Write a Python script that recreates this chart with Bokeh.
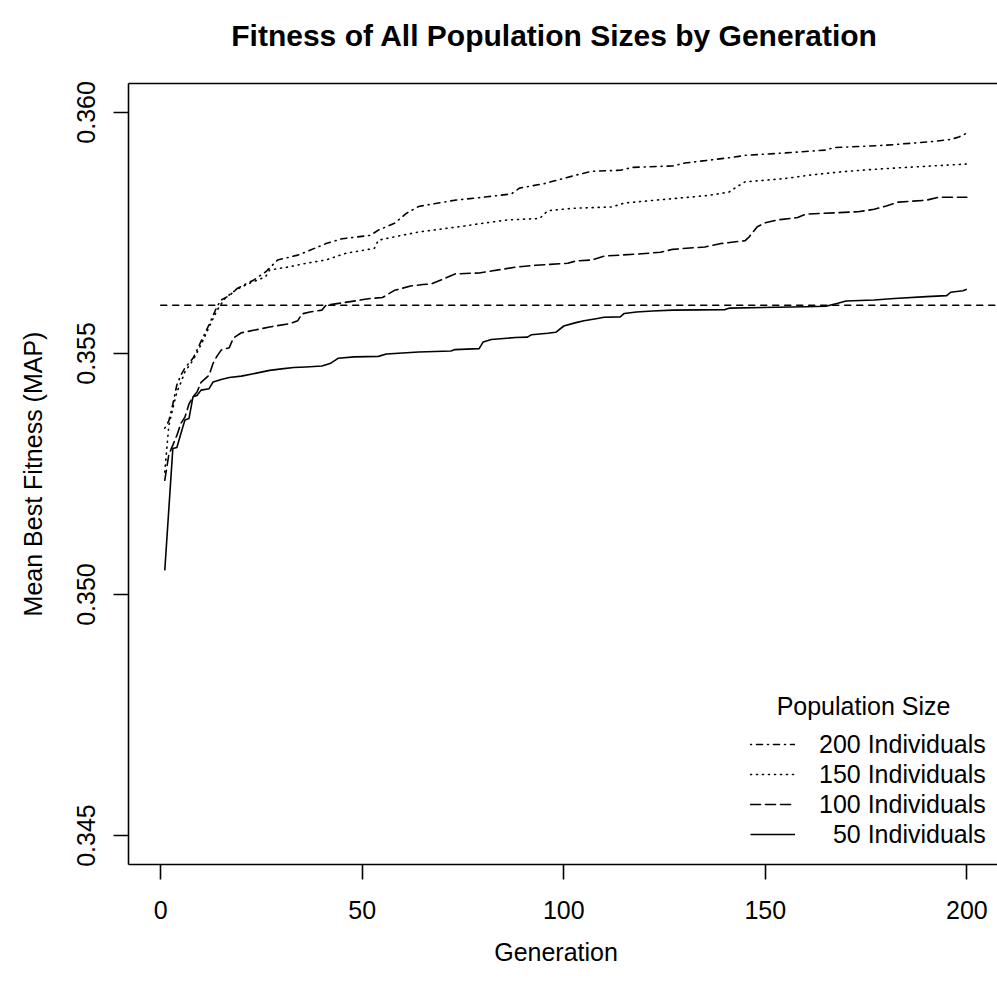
from bokeh.plotting import figure
from bokeh.models import (Range1d, FixedTicker, LinearAxis, Legend, LegendItem, Label)
from bokeh.embed import file_html
from bokeh.resources import INLINE

# ---------------- data ----------------
title_text = "Fitness of All Population Sizes by Generation"
x_label = "Generation"
y_label = "Mean Best Fitness (MAP)"
legend_title = "Population Size"

x_ticks = [0, 50, 100, 150, 200]
y_ticks = [0.345, 0.350, 0.355, 0.360]
y_tick_labels = ["0.345", "0.350", "0.355", "0.360"]

ref_value = 0.356
ref_x = [0, 215]

gen_50 = [1, 3, 4, 5, 6, 7, 8, 9, 10, 12, 13, 15, 17, 20, 23, 27, 30, 33, 36, 40, 42, 44, 48, 54, 56,
          64, 72, 73, 79, 80, 82, 88, 91, 92, 96, 98, 100, 103, 105, 108, 110, 114, 115, 118, 122,
          127, 140, 141, 160, 165, 168, 170, 177, 182, 190, 195, 196, 199, 200]
fit_50 = [0.35050, 0.35303, 0.35305, 0.35334, 0.35362, 0.35365, 0.35410, 0.35413, 0.35424, 0.35427,
          0.35441, 0.35446, 0.35450, 0.35453, 0.35458, 0.35465, 0.35468, 0.35471, 0.35472, 0.35474,
          0.35479, 0.35490, 0.35493, 0.35494, 0.35499, 0.35503, 0.35505, 0.35508, 0.35510, 0.35524,
          0.35529, 0.35533, 0.35534, 0.35539, 0.35542, 0.35544, 0.35557, 0.35564, 0.35568, 0.35572,
          0.35575, 0.35576, 0.35583, 0.35586, 0.35588, 0.35590, 0.35591, 0.35594, 0.35597, 0.35598,
          0.35604, 0.35609, 0.35611, 0.35614, 0.35618, 0.35620, 0.35627, 0.35630, 0.35633]

gen_100 = [1, 2, 3, 4, 5, 6, 7, 8, 9, 10, 12, 13, 14, 15, 17, 18, 20, 23, 27, 32, 34, 35, 37, 40, 41,
           45, 52, 55, 58, 62, 65, 67, 70, 73, 79, 82, 88, 93, 101, 103, 107, 110, 118, 124, 127,
           135, 139, 145, 146, 148, 150, 153, 158, 160, 173, 177, 180, 183, 190, 193, 200]
fit_100 = [0.35237, 0.35290, 0.35310, 0.35330, 0.35355, 0.35368, 0.35395, 0.35410, 0.35420, 0.35440,
           0.35455, 0.35480, 0.35495, 0.35507, 0.35512, 0.35532, 0.35543, 0.35548, 0.35555, 0.35562,
           0.35568, 0.35582, 0.35586, 0.35590, 0.35600, 0.35605, 0.35614, 0.35616, 0.35631, 0.35640,
           0.35643, 0.35644, 0.35654, 0.35665, 0.35667, 0.35671, 0.35679, 0.35683, 0.35687, 0.35692,
           0.35694, 0.35702, 0.35706, 0.35710, 0.35716, 0.35721, 0.35728, 0.35734, 0.35742, 0.35763,
           0.35771, 0.35777, 0.35782, 0.35789, 0.35794, 0.35799, 0.35806, 0.35814, 0.35818, 0.35824,
           0.35824]

gen_150 = [1, 2, 3, 4, 5, 6, 8, 10, 12, 14, 16, 18, 20, 23, 26, 27, 32, 36, 41, 46, 53, 54, 58, 64,
           75, 79, 86, 94, 96, 102, 112, 115, 124, 131, 136, 139, 141, 143, 145, 155, 161, 169, 177,
           185, 200]
fit_150 = [0.35254, 0.35350, 0.35386, 0.35420, 0.35440, 0.35462, 0.35486, 0.35518, 0.35555, 0.35590,
           0.35615, 0.35628, 0.35638, 0.35649, 0.35659, 0.35673, 0.35680, 0.35687, 0.35694, 0.35708,
           0.35718, 0.35735, 0.35742, 0.35752, 0.35764, 0.35769, 0.35777, 0.35780, 0.35796, 0.35801,
           0.35804, 0.35812, 0.35819, 0.35824, 0.35828, 0.35832, 0.35835, 0.35846, 0.35856, 0.35863,
           0.35870, 0.35877, 0.35882, 0.35886, 0.35893]

gen_200 = [1, 2, 3, 4, 5, 6, 8, 10, 12, 14, 15, 17, 19, 23, 26, 29, 34, 37, 41, 45, 52, 54, 58, 61,
           64, 73, 81, 87, 89, 95, 99, 103, 107, 114, 117, 127, 130, 136, 142, 145, 155, 165, 167,
           180, 192, 196, 198, 200]
fit_200 = [0.35345, 0.35360, 0.35395, 0.35435, 0.35455, 0.35470, 0.35490, 0.35525, 0.35560, 0.35598,
           0.35611, 0.35620, 0.35635, 0.35652, 0.35669, 0.35694, 0.35704, 0.35714, 0.35728, 0.35738,
           0.35745, 0.35756, 0.35770, 0.35791, 0.35805, 0.35818, 0.35825, 0.35831, 0.35843, 0.35852,
           0.35861, 0.35870, 0.35878, 0.35880, 0.35886, 0.35889, 0.35895, 0.35901, 0.35907, 0.35911,
           0.35916, 0.35922, 0.35927, 0.35932, 0.35940, 0.35944, 0.35949, 0.35957]

series_labels = ["200 Individuals", "150 Individuals", "100 Individuals", "\u200750 Individuals"]

# ---------------- styling ----------------
FONT = "Liberation Sans"
LW = 1.6
INK = "black"
PAD = "\u2007"  # figure space, nudges centred labels slightly left like the original

p = figure(width=997, height=979, output_backend="svg", toolbar_location=None,
           x_range=Range1d(-8, 207.6), y_range=Range1d(0.3444, 0.3606),
           min_border_left=128, min_border_right=0, min_border_top=83, min_border_bottom=115,
           background_fill_color="white", border_fill_color="white")
p.outline_line_color = None
p.xgrid.visible = False
p.ygrid.visible = False
p.title.text = ""
p.title.standoff = 0

# axes
for ax in (p.xaxis[0], p.yaxis[0]):
    ax.axis_line_color = INK
    ax.axis_line_width = LW
    ax.major_tick_line_color = INK
    ax.major_tick_line_width = LW
    ax.major_tick_out = 15
    ax.major_tick_in = 0
    ax.minor_tick_line_color = None
    ax.major_label_text_font = FONT
    ax.major_label_text_font_size = "25px"
    ax.major_label_text_color = INK
    ax.axis_label_text_font = FONT
    ax.axis_label_text_font_size = "25px"
    ax.axis_label_text_font_style = "normal"
    ax.axis_label_text_color = INK

p.xaxis[0].ticker = FixedTicker(ticks=x_ticks)
p.xaxis[0].axis_label = x_label + PAD
p.xaxis[0].major_label_standoff = 21
p.xaxis[0].axis_label_standoff = 16

p.yaxis[0].ticker = FixedTicker(ticks=y_ticks)
p.yaxis[0].major_label_overrides = {t: s for t, s in zip(y_ticks, y_tick_labels)}
p.yaxis[0].major_label_orientation = "vertical"
p.yaxis[0].axis_label = y_label
p.yaxis[0].major_label_standoff = 18
p.yaxis[0].axis_label_standoff = 28

# top border line (R box top) carrying the chart title as its label
top = LinearAxis(ticker=FixedTicker(ticks=[]), major_tick_out=0, major_tick_in=0,
                 minor_tick_out=0, minor_tick_in=0, major_label_text_font_size="0px",
                 axis_line_color=INK, axis_line_width=LW, major_label_standoff=0,
                 axis_label=title_text + PAD, axis_label_standoff=32,
                 axis_label_text_font=FONT, axis_label_text_font_size="30px",
                 axis_label_text_font_style="bold", axis_label_text_color=INK)
p.add_layout(top, "above")

# reference line
p.line(ref_x, [ref_value, ref_value], line_color=INK, line_width=LW,
       line_dash="6 6", line_cap="round")

# series
r50 = p.line(gen_50, fit_50, line_color=INK, line_width=LW, line_join="round")
r100 = p.line(gen_100, fit_100, line_color=INK, line_width=LW, line_dash="10 5",
              line_cap="round", line_join="round")
r150 = p.line(gen_150, fit_150, line_color=INK, line_width=LW, line_dash="1 5",
              line_cap="round", line_join="round")
r200 = p.line(gen_200, fit_200, line_color=INK, line_width=LW, line_dash="1 5 6 5",
              line_cap="round", line_join="round")

legend = Legend(items=[LegendItem(label=series_labels[0], renderers=[r200]),
                       LegendItem(label=series_labels[1], renderers=[r150]),
                       LegendItem(label=series_labels[2], renderers=[r100]),
                       LegendItem(label=series_labels[3], renderers=[r50])],
                location=(622, 15), padding=0, margin=0, spacing=0,
                border_line_color=None, background_fill_alpha=0,
                glyph_width=45, glyph_height=30, label_height=30, label_standoff=24,
                label_text_font=FONT, label_text_font_size="25px", label_text_color=INK)
p.add_layout(legend)

p.add_layout(Label(x=735, y=159, x_units="screen", y_units="screen", text=legend_title,
                   text_align="center", text_baseline="middle", text_font=FONT,
                   text_font_size="25px", text_color=INK))

open("out.html", "w").write(file_html(p, INLINE))
